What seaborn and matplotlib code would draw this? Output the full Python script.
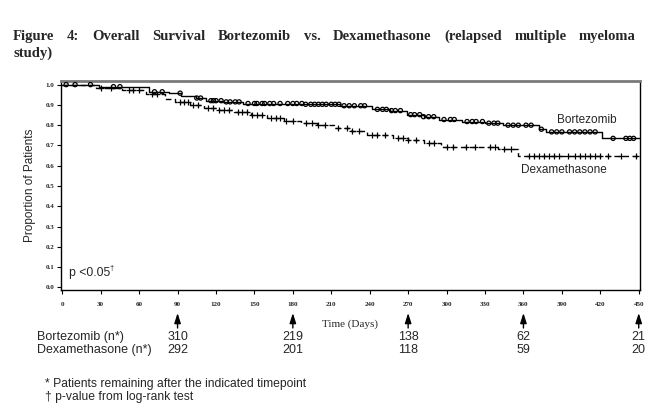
import numpy as np
import pandas as pd
import matplotlib
matplotlib.use("Agg")
import matplotlib.pyplot as plt
import matplotlib.transforms as mtransforms
import seaborn as sns

# ---- data (Kaplan-Meier step points) ----
bort_time = [0, 29, 68, 83, 93, 104, 112, 125, 141, 190, 217, 242, 256, 269, 282, 294, 312, 330, 344, 372, 378, 421, 450]
bort_surv = [1.0, 0.99, 0.965, 0.958, 0.944, 0.934, 0.921, 0.915, 0.907, 0.903, 0.896, 0.878, 0.872, 0.852,
             0.842, 0.828, 0.818, 0.810, 0.800, 0.780, 0.767, 0.735, 0.735]

dex_time = [0, 26, 47, 65, 80, 88, 100, 111, 122, 134, 147, 160, 173, 186, 199, 212, 225, 238, 258,
            270, 282, 296, 340, 356, 450]
dex_surv = [1.0, 0.985, 0.972, 0.952, 0.927, 0.916, 0.902, 0.886, 0.875, 0.863, 0.850, 0.836, 0.823,
            0.810, 0.800, 0.787, 0.770, 0.752, 0.738, 0.725, 0.713, 0.693, 0.685, 0.647, 0.647]

# censoring marks (days)
bort_cens = [3, 10, 22, 40, 45, 72, 78, 92, 105, 108, 116, 118, 120, 124, 128, 131, 135, 138,
             145, 150, 152, 156, 158, 162, 165, 170, 176, 180, 183, 187, 190, 194, 197, 200,
             203, 206, 210, 213, 216, 220, 224, 228, 233, 236, 246, 250, 253, 257, 260, 264,
             272, 275, 279, 282, 286, 290, 298, 303, 306, 316, 320, 323, 328, 333, 337, 340,
             348, 352, 356, 362, 366, 374, 382, 386, 390, 396, 400, 404, 408, 412, 416,
             430, 440, 443, 446]
dex_cens = [30, 38, 52, 55, 60, 70, 74, 92, 95, 98, 102, 106, 114, 118, 122, 126, 130, 137,
            140, 144, 148, 152, 156, 163, 167, 170, 175, 180, 190, 195, 200, 205, 215, 222,
            226, 232, 242, 246, 252, 262, 266, 270, 276, 286, 290, 300, 305, 315, 322, 334,
            338, 345, 350, 364, 368, 372, 376, 380, 384, 388, 395, 400, 404, 408, 412, 416,
            420, 426, 436, 448]

risk_days = [90, 180, 270, 360, 450]
bort_risk = [310, 219, 138, 62, 21]
dex_risk = [292, 201, 118, 59, 20]

x_ticks = list(range(0, 451, 30))
y_ticks = [0.0, 0.1, 0.2, 0.3, 0.4, 0.5, 0.6, 0.7, 0.8, 0.9, 1.0]

title_line1 = "Figure 4: Overall Survival Bortezomib vs. Dexamethasone (relapsed multiple myeloma"
title_line2 = "study)"


def step_value(times, surv, t):
    i = np.searchsorted(times, t, side="right") - 1
    return np.asarray(surv)[i]


sns.set_theme(style="white")
plt.rcParams["font.family"] = ["Liberation Sans", "DejaVu Sans"]

fig = plt.figure(figsize=(6.61, 4.13), dpi=100)
fig.patch.set_facecolor("white")
ax = fig.add_axes([61 / 661, 1 - 290 / 413, 579 / 661, 209 / 413])

bort = pd.DataFrame({"day": bort_time, "surv": bort_surv})
dex = pd.DataFrame({"day": dex_time, "surv": dex_surv})
sns.lineplot(data=bort, x="day", y="surv", drawstyle="steps-post", estimator=None,
             color="black", lw=1.0, ax=ax)
sns.lineplot(data=dex, x="day", y="surv", drawstyle="steps-post", estimator=None,
             color="black", lw=1.0, ax=ax, linestyle=(0, (4, 2.5)))

bc = pd.DataFrame({"day": bort_cens, "surv": [step_value(bort_time, bort_surv, t) for t in bort_cens]})
dc = pd.DataFrame({"day": dex_cens, "surv": [step_value(dex_time, dex_surv, t) for t in dex_cens]})
sns.scatterplot(data=bc, x="day", y="surv", marker="o", s=9, facecolor="none",
                edgecolor="black", linewidth=0.9, ax=ax, zorder=3)
sns.scatterplot(data=dc, x="day", y="surv", marker="+", s=14, color="black",
                linewidth=0.9, ax=ax, zorder=3)

ax.set_xlim(-1, 451)
ax.set_ylim(-0.013, 1.018)
ax.set_xticks(x_ticks)
ax.set_yticks(y_ticks)
ax.set_xticklabels([str(v) for v in x_ticks], fontsize=5, fontweight="bold", family="Liberation Serif")
ax.set_yticklabels([f"{v:.1f}" for v in y_ticks], fontsize=5, fontweight="bold", family="Liberation Serif")
ax.tick_params(axis="both", direction="out", length=3, width=0.8, color="black", pad=2,
               bottom=True, left=True)
ax.tick_params(axis="x", pad=6)
ax.set_xlabel("")
ax.set_ylabel("Proportion of Patients", fontsize=8.5, labelpad=7)
for side in ["left", "bottom", "right"]:
    ax.spines[side].set_color("black")
    ax.spines[side].set_linewidth(1.0)
ax.spines["top"].set_color("#7a7a7a")
ax.spines["top"].set_linewidth(2.0)
ax.grid(False)

ax.text(386, 0.826, "Bortezomib", fontsize=8.5, ha="left", va="center")
ax.text(358, 0.58, "Dexamethasone", fontsize=8.5, ha="left", va="center")
ax.text(5, 0.073, "p <0.05", fontsize=8.8, ha="left", va="center")
ax.text(37, 0.092, "\u2020", fontsize=5.5, ha="left", va="center")

# risk table below the axis
trans = mtransforms.blended_transform_factory(ax.transData, fig.transFigure)
for d, nb, nd in zip(risk_days, bort_risk, dex_risk):
    ax.annotate("", xy=(d, 1 - 313 / 413), xytext=(d, 1 - 328 / 413),
                xycoords=trans, textcoords=trans, annotation_clip=False,
                arrowprops=dict(arrowstyle="-|>,head_length=0.5,head_width=0.16",
                                color="black", lw=1.0, shrinkA=0, shrinkB=0))
    ax.text(d, 1 - 337 / 413, str(nb), transform=trans, ha="center", va="center", fontsize=9)
    ax.text(d, 1 - 350 / 413, str(nd), transform=trans, ha="center", va="center", fontsize=9)

fig.text(350 / 661, 1 - 324 / 413, "Time (Days)", ha="center", va="center", fontsize=8,
         family="Liberation Serif")
fig.text(37 / 661, 1 - 337 / 413, "Bortezomib (n*)", ha="left", va="center", fontsize=9)
fig.text(37 / 661, 1 - 350 / 413, "Dexamethasone (n*)", ha="left", va="center", fontsize=9)
fig.text(45 / 661, 1 - 384 / 413, "* Patients remaining after the indicated timepoint",
         ha="left", va="center", fontsize=8.7)
fig.text(45 / 661, 1 - 397 / 413, "\u2020 p-value from log-rank test",
         ha="left", va="center", fontsize=8.7)

# justified title, first line spread from x=13 to x=636
words = title_line1.split(" ")
objs = [fig.text(0, 1 - 40 / 413, w, ha="left", va="baseline", fontsize=10.5,
                 fontweight="bold", family="Liberation Serif") for w in words]
fig.canvas.draw()
renderer = fig.canvas.get_renderer()
widths = [o.get_window_extent(renderer).width for o in objs]
gap = (636 - 13 - sum(widths)) / (len(words) - 1)
x = 13.0
for o, w in zip(objs, widths):
    o.set_x(x / 661)
    x += w + gap
fig.text(13 / 661, 1 - 57 / 413, title_line2, ha="left", va="baseline", fontsize=10.5,
         fontweight="bold", family="Liberation Serif")

fig.savefig("out.png", dpi=100, facecolor="white")
